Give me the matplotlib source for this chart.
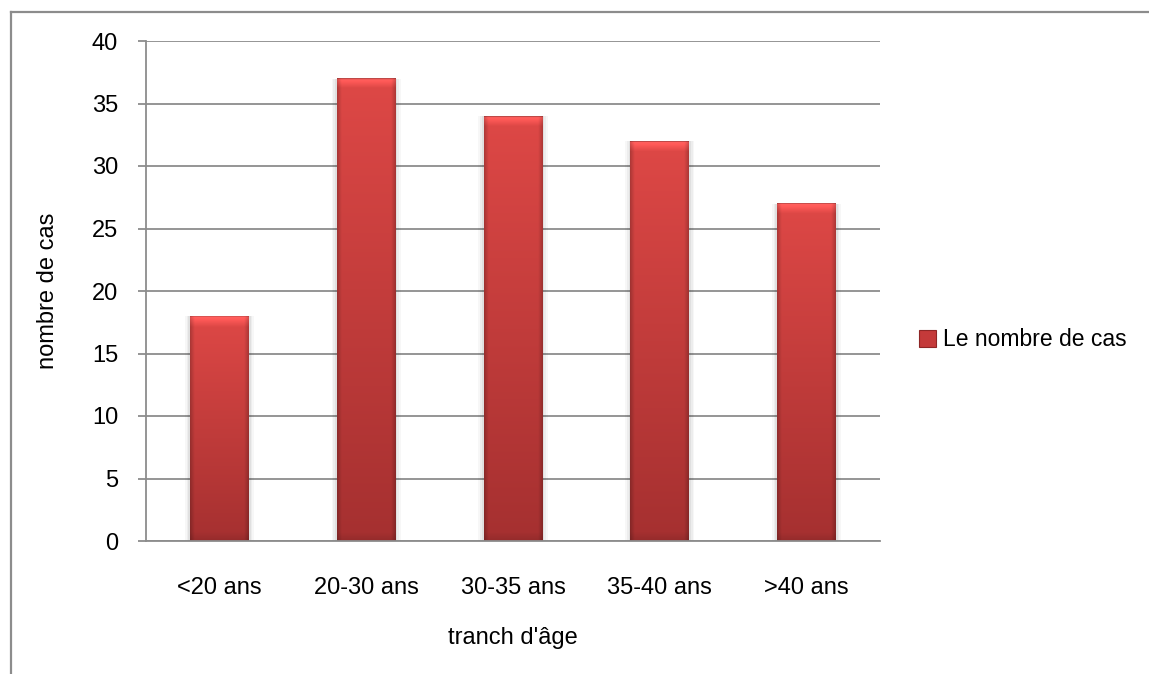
import numpy as np
import matplotlib
matplotlib.use("Agg")
import matplotlib.pyplot as plt
from matplotlib.lines import Line2D
from matplotlib.patches import Rectangle

plt.rcParams['font.family'] = ['Liberation Sans', 'DejaVu Sans']

# Data
categories = ['<20 ans', '20-30 ans', '30-35 ans', '35-40 ans', '>40 ans']
cases = [18, 37, 34, 32, 27]
series_name = 'Le nombre de cas'
y_ticks = [0, 5, 10, 15, 20, 25, 30, 35, 40]

W, H, DPI = 1149, 674, 100
FS = 17
fig = plt.figure(figsize=(W / DPI, H / DPI), dpi=DPI)
ax = fig.add_axes([146 / W, 1 - 541 / H, (880 - 146) / W, (541 - 41) / H])

grid_color = '#8c8c8c'
x = np.arange(len(categories))
bar_w = 0.40

ax.set_yticks(y_ticks)
ax.yaxis.grid(True, color=grid_color, linewidth=1.3, zorder=0)
ax.set_axisbelow(True)

# Shaded bar texture: lighter at the top, darker at the bottom and at the sides
ny, nx = 400, 60
v = np.linspace(0, 1, ny)[:, None]          # 0 = bottom, 1 = top
u = np.linspace(-1, 1, nx)[None, :]
top_c = np.array([222, 72, 70]) / 255
bot_c = np.array([165, 48, 48]) / 255
base = bot_c[None, None, :] * (1 - v[..., None]) + top_c[None, None, :] * v[..., None]
side = 1 - 0.20 * np.clip((np.abs(u) - 0.85) / 0.15, 0, 1)
tex = np.clip(base * side[..., None], 0, 1)

for xi, val in zip(x, cases):
    # soft shadow halo
    for k, a in enumerate([0.05, 0.04, 0.03]):
        pad = 0.012 * (k + 1)
        ax.add_patch(Rectangle((xi - bar_w / 2 - pad, 0), bar_w + 2 * pad, val,
                               facecolor='#000000', alpha=a, edgecolor='none', zorder=1))
    t = tex.copy()
    # light bevel along the top edge, fading downwards
    bev = max(2, int(ny * 0.9 / val))
    fade = np.linspace(0, 1, bev)[:, None, None]
    t[-bev:] = np.clip(t[-bev:] * (1 + 0.15 * fade) + 0.06 * fade, 0, 1)
    t[-1:] = t[-1:] * 0.75
    # subtle darker band at the base
    bb = max(2, int(ny * 0.8 / val))
    shade = np.linspace(0.90, 1.0, bb)[:, None, None]
    t[:bb] = t[:bb] * shade
    ax.imshow(t, extent=(xi - bar_w / 2, xi + bar_w / 2, 0, val), origin='lower',
              aspect='auto', zorder=2, interpolation='bilinear')

ax.set_xlim(-0.5, len(categories) - 0.5)
ax.set_ylim(0, 40)

ax.set_xticks(x)
ax.set_xticklabels(categories, fontsize=FS)
ax.tick_params(axis='x', length=0, pad=26)
ax.tick_params(axis='y', length=6, width=1.3, color=grid_color, labelsize=FS, pad=14)

for s in ['top', 'right']:
    ax.spines[s].set_visible(False)
for s in ['left', 'bottom']:
    ax.spines[s].set_color(grid_color)
    ax.spines[s].set_linewidth(1.3)

ax.set_xlabel("tranch d'âge", fontsize=FS, labelpad=20)
ax.set_ylabel('nombre de cas', fontsize=FS, labelpad=24)

handle = Rectangle((0, 0), 1, 1, facecolor='#c43a3a', edgecolor='#8e2626', linewidth=0.8)
fig.legend([handle], [series_name], loc='center left',
           bbox_to_anchor=(898 / W, 1 - 340 / H), frameon=False, fontsize=16.5,
           handlelength=0.75, handleheight=0.75, handletextpad=0.3)

# outer chart frame (left and top edges)
fig.add_artist(Line2D([10.5 / W, 10.5 / W], [0, 1 - 12 / H], color=grid_color,
                      linewidth=1.6, transform=fig.transFigure))
fig.add_artist(Line2D([10.5 / W, 1], [1 - 12 / H, 1 - 12 / H], color=grid_color,
                      linewidth=1.6, transform=fig.transFigure))

fig.savefig('out.png', dpi=DPI, facecolor='white')
